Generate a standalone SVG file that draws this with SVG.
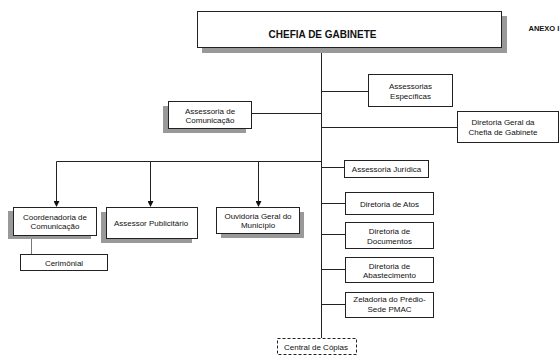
<svg xmlns="http://www.w3.org/2000/svg" width="560" height="356" viewBox="0 0 560 356">
<defs>
<style>
text{font-family:"Liberation Sans",Arial,sans-serif;font-size:8px;fill:#111;text-anchor:middle}
.box{fill:#fff;stroke:#222;stroke-width:1}
.sh{fill:#999;stroke:none}
.c{stroke:#222;stroke-width:1;fill:none}
.title{font-size:10px;font-weight:bold}
.anexo{font-size:7.5px;font-weight:bold;text-anchor:start}
</style>
<marker id="arr" markerWidth="6" markerHeight="6" refX="5" refY="3" orient="auto" markerUnits="userSpaceOnUse">
<path d="M0,0 L6,3 L0,6 z" fill="#111"/>
</marker>
</defs>
<rect width="560" height="356" fill="#fff"/>
<text class="anexo" x="528.5" y="31">ANEXO I</text>
<g id="connectors">
<path class="c" d="M321.5,47 V338"/>
<path class="c" d="M321.5,91.5 H368"/>
<path class="c" d="M321.5,127.5 H457"/>
<path class="c" d="M251,113.5 H321.5"/>
<path class="c" d="M56.5,161.5 H321.5"/>
<path class="c" d="M56.5,161.5 V206" marker-end="url(#arr)"/>
<path class="c" d="M150.5,161.5 V206" marker-end="url(#arr)"/>
<path class="c" d="M258.5,161.5 V206" marker-end="url(#arr)"/>
<path class="c" d="M321.5,167.5 H344"/>
<path class="c" d="M321.5,203.5 H345"/>
<path class="c" d="M321.5,234.5 H345"/>
<path class="c" d="M321.5,269.5 H345"/>
<path class="c" d="M321.5,304.5 H345"/>
<path d="M31.5,235 V254" stroke="#777" stroke-width="1"/>
</g>
<g id="chefia">
<rect class="sh" x="202" y="16" width="305" height="37"/>
<rect class="box" x="197.5" y="11.5" width="304" height="36"/>
<text class="title" x="322.5" y="38">CHEFIA DE GABINETE</text>
</g>
<g id="assessorias-especificas">
<rect class="box" x="368.5" y="74.5" width="84" height="32"/>
<text x="410.5" y="88.5">Assessorias</text>
<text x="410.5" y="98.5">Específicas</text>
</g>
<g id="diretoria-geral">
<rect class="box" x="457.5" y="111.5" width="101" height="31"/>
<text x="503" y="125">Diretoria Geral da</text>
<text x="503" y="135">Chefia de Gabinete</text>
</g>
<g id="assessoria-comunicacao">
<rect class="sh" x="163" y="106" width="83" height="27"/>
<rect class="box" x="168.5" y="101.5" width="83" height="27"/>
<text x="210" y="113.5">Assessoria de</text>
<text x="210" y="123">Comunicação</text>
</g>
<g id="coordenadoria">
<rect class="sh" x="8" y="211" width="83" height="28"/>
<rect class="box" x="13.5" y="207.5" width="83" height="28"/>
<text x="55" y="219.5">Coordenadoria de</text>
<text x="55" y="229">Comunicação</text>
</g>
<g id="assessor-publicitario">
<rect class="sh" x="101" y="212" width="91" height="31"/>
<rect class="box" x="106.5" y="207.5" width="91" height="31"/>
<text x="151" y="226">Assessor Publicitário</text>
</g>
<g id="ouvidoria">
<rect class="sh" x="221" y="212" width="83" height="26"/>
<rect class="box" x="216.5" y="207.5" width="83" height="26"/>
<text x="258" y="218.5">Ouvidoria Geral do</text>
<text x="258" y="228">Município</text>
</g>
<g id="cerimonial">
<rect class="box" x="20.5" y="254.5" width="87" height="16"/>
<text x="64" y="265.5">Cerimônial</text>
</g>
<g id="assessoria-juridica">
<rect class="box" x="344.5" y="160.5" width="84" height="17"/>
<text x="386.5" y="171.5">Assessoria Jurídica</text>
</g>
<g id="diretoria-atos">
<rect class="box" x="345.5" y="192.5" width="88" height="22"/>
<text x="389.5" y="206.5">Diretoria de Atos</text>
</g>
<g id="diretoria-documentos">
<rect class="box" x="345.5" y="222.5" width="88" height="26"/>
<text x="389.5" y="234">Diretoria de</text>
<text x="389.5" y="244">Documentos</text>
</g>
<g id="diretoria-abastecimento">
<rect class="box" x="345.5" y="257.5" width="88" height="25"/>
<text x="389.5" y="268.5">Diretoria de</text>
<text x="389.5" y="278">Abastecimento</text>
</g>
<g id="zeladoria">
<rect class="box" x="345.5" y="292.5" width="88" height="25"/>
<text x="389.5" y="302">Zeladoria do Prédio-</text>
<text x="389.5" y="311.5">Sede PMAC</text>
</g>
<g id="central-copias">
<rect x="277.5" y="338.5" width="79" height="16" fill="#fff" stroke="#222" stroke-width="1" stroke-dasharray="3,2"/>
<text x="316" y="349.5">Central de Cópias</text>
</g>
</svg>
